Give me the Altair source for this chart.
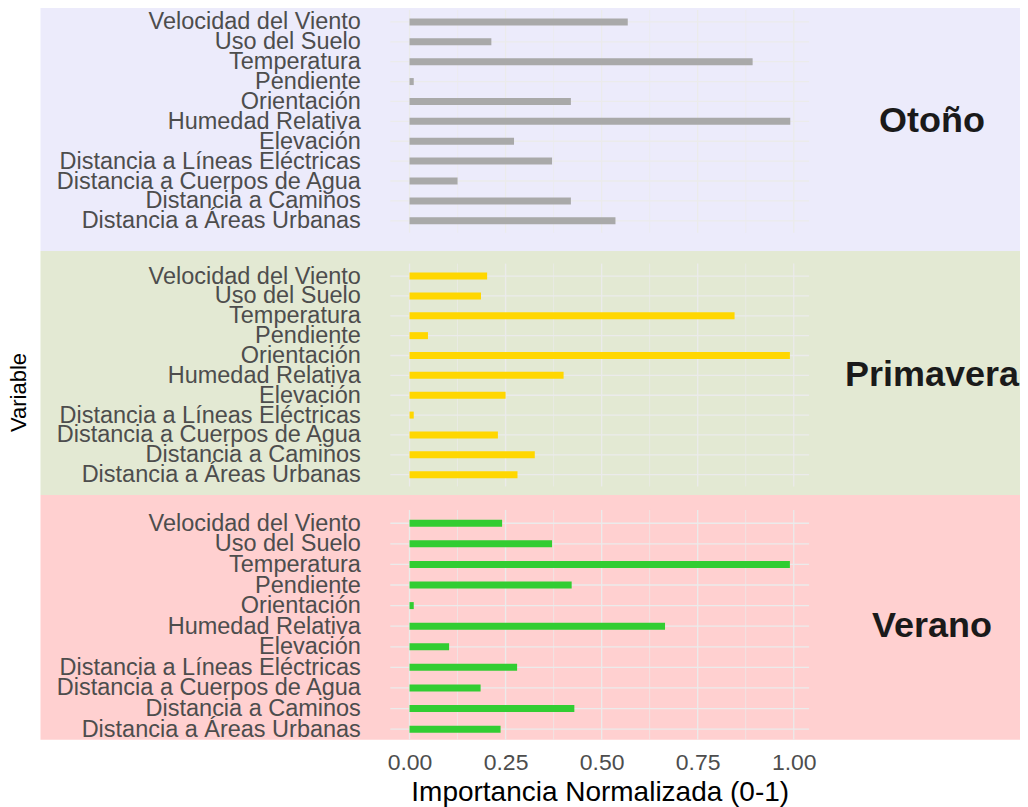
import altair as alt
import pandas as pd

# ---- data ----
variables = [
    "Velocidad del Viento",
    "Uso del Suelo",
    "Temperatura",
    "Pendiente",
    "Orientación",
    "Humedad Relativa",
    "Elevación",
    "Distancia a Líneas Eléctricas",
    "Distancia a Cuerpos de Agua",
    "Distancia a Caminos",
    "Distancia a Áreas Urbanas",
]
otono = [0.568, 0.213, 0.893, 0.011, 0.420, 0.991, 0.272, 0.371, 0.125, 0.420, 0.536]
primavera = [0.202, 0.186, 0.846, 0.048, 0.990, 0.401, 0.250, 0.011, 0.230, 0.326, 0.281]
verano = [0.241, 0.371, 0.990, 0.422, 0.011, 0.665, 0.103, 0.280, 0.185, 0.429, 0.237]

estaciones = ["Otoño", "Primavera", "Verano"]
series = [otono, primavera, verano]
x_ticks = [0.0, 0.25, 0.5, 0.75, 1.0]
grid_major = [0.0, 0.25, 0.5, 0.75, 1.0]
grid_minor = [0.125, 0.375, 0.625, 0.875]

# ---- styles / layout ----
FONT = "Liberation Sans"
bar_colors = ["#A9A9A9", "#FFD700", "#32CD32"]
bg_colors = ["#ECEBFB", "#E3E9D3", "#FFD0D0"]
GRID = "#EBEBEB"
W = 419
panel_h = [245, 244, 245]
y_ranges = [[15.7, 214.7], [25.0, 223.7], [28.3, 234.3]]
grid_span = [[3.7, 226.6], [12.5, 235.5], [15.0, 245.0]]
strip_y = [115, 123.5, 131]
x_domain = [-0.05, 1.04]


def panel(i):
    df = pd.DataFrame({"Variable": variables, "Importancia": series[i]})
    one = pd.DataFrame({"estacion": [estaciones[i]]})
    h = panel_h[i]
    xscale = alt.Scale(domain=x_domain, nice=False)
    yscale = alt.Scale(type="point", range=y_ranges[i], padding=0)

    if i == 2:
        xaxis = alt.Axis(
            values=x_ticks, format=".2f", grid=False, ticks=False, domain=False,
            labelFontSize=23, labelColor="#4D4D4D", labelFont=FONT, labelPadding=12,
            labelFlush=False,
            title="Importancia Normalizada (0-1)", titleFontSize=28,
            titleFontWeight="normal", titleColor="black", titleFont=FONT,
            titleY=61, titleBaseline="alphabetic", zindex=1,
        )
    else:
        xaxis = None

    yaxis_kw = dict(
        ticks=False, domain=False, grid=False,
        labelFontSize=23.5, labelColor="#4D4D4D", labelFont=FONT,
        labelPadding=30, labelLimit=600, zindex=1,
    )
    if i == 1:
        yaxis = alt.Axis(
            title="Variable", titleFontSize=22, titleFontWeight="normal",
            titleColor="black", titleFont=FONT, titleX=-371.5, titleY=141,
            titleAngle=270, titleAlign="center", titleBaseline="middle",
            **yaxis_kw,
        )
    else:
        yaxis = alt.Axis(title=None, **yaxis_kw)

    X = alt.X("Importancia:Q", scale=xscale, axis=xaxis)
    Y = alt.Y("Variable:N", sort=variables, scale=yscale, axis=yaxis)

    bg = alt.Chart(one).mark_rect(color=bg_colors[i]).encode(
        x=alt.value(-350), x2=alt.value(630), y=alt.value(0), y2=alt.value(h)
    )
    vminor = alt.Chart(pd.DataFrame({"Importancia": grid_minor})).mark_rule(
        color=GRID, strokeWidth=0.7
    ).encode(x=X, y=alt.value(grid_span[i][0]), y2=alt.value(grid_span[i][1]))
    vmajor = alt.Chart(pd.DataFrame({"Importancia": grid_major})).mark_rule(
        color=GRID, strokeWidth=1.3
    ).encode(x=X, y=alt.value(grid_span[i][0]), y2=alt.value(grid_span[i][1]))
    hgrid = alt.Chart(df).mark_rule(color=GRID, strokeWidth=1.3).encode(
        y=Y, x=alt.value(0), x2=alt.value(W),
    )
    bars = alt.Chart(df).mark_bar(size=7, color=bar_colors[i]).encode(x=X, y=Y)
    strip = alt.Chart(one).mark_text(
        fontSize=36, fontWeight="bold", font=FONT, color="#1A1A1A",
        align="center", baseline="middle",
    ).encode(
        text="estacion:N", x=alt.value(542), y=alt.value(strip_y[i])
    )
    return alt.layer(bg, vminor, vmajor, hgrid, bars, strip).properties(width=W, height=h)


chart = (
    alt.vconcat(panel(0), panel(1), panel(2), spacing=0, bounds="flush")
    .resolve_scale(x="independent", y="independent")
    .properties(padding={"left": -0.5, "top": -2, "right": 0, "bottom": 0}, background="white")
    .configure_view(stroke=None)
)

chart.save("out.html", embed_options={"renderer": "svg", "actions": False})
